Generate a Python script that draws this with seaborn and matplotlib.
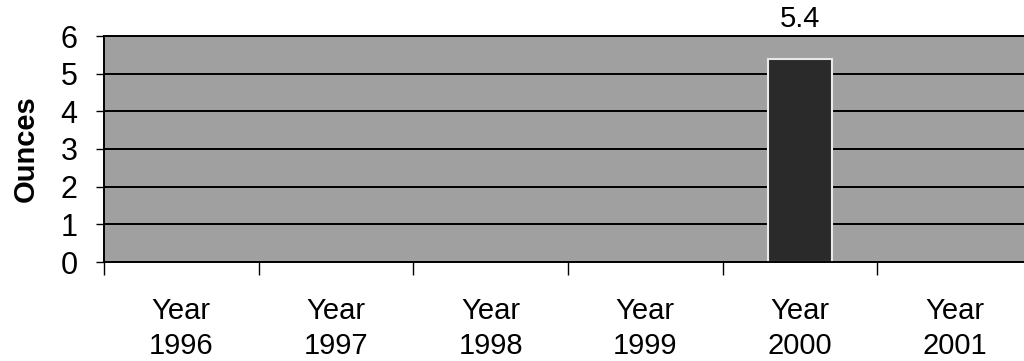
import matplotlib
matplotlib.use("Agg")
import matplotlib.pyplot as plt
import seaborn as sns
import numpy as np
import pandas as pd

years = ["1996", "1997", "1998", "1999", "2000", "2001"]
ounces = [np.nan, np.nan, np.nan, np.nan, 5.4, np.nan]
tick_labels = [f"Year\n{y}" for y in years]
yticks = [0, 1, 2, 3, 4, 5, 6]

sns.set_theme(style="white")
plt.rcParams['font.family'] = ['Liberation Sans', 'DejaVu Sans']
plt.rcParams['text.color'] = 'black'
plt.rcParams['xtick.color'] = 'black'
plt.rcParams['ytick.color'] = 'black'
plt.rcParams['axes.labelcolor'] = 'black'

df = pd.DataFrame({"year": years, "ounces": ounces})

fig = plt.figure(figsize=(10.24, 3.61), dpi=100)
ax = fig.add_axes([104/1024, 99/361, 928/1024, 226/361])
ax.set_facecolor("#a0a0a0")

sns.barplot(data=df, x="year", y="ounces", order=years, ax=ax,
            color="#2a2a2a", edgecolor="#e8e8e8", linewidth=1.5, width=0.42,
            saturation=1)

ax.set_ylim(0, 6)
ax.set_xlim(-0.5, len(years) - 0.5)
ax.set_yticks(yticks)
ax.set_yticklabels([str(v) for v in yticks], fontsize=22)
ax.yaxis.grid(True, color="black", linewidth=1.4)
ax.set_axisbelow(True)

ax.set_xticks(range(len(years)))
ax.set_xticklabels(tick_labels, fontsize=21, linespacing=1.32)
ax.tick_params(axis="x", which="major", length=0, pad=25)
ax.set_xticks(np.arange(-0.5, len(years), 1.0), minor=True)
ax.tick_params(axis="x", which="minor", length=9, width=1, color="black", direction="out", bottom=True)
ax.tick_params(axis="y", which="major", length=6, width=1, color="black", direction="out", left=True, pad=13)

ax.set_xlabel("")
ax.set_ylabel("Ounces", fontsize=21, fontweight="bold", labelpad=15)

for s in ["left", "bottom", "top"]:
    ax.spines[s].set_visible(True)
    ax.spines[s].set_color("black")
    ax.spines[s].set_linewidth(1.4)
ax.spines["right"].set_visible(False)

for i, v in enumerate(ounces):
    if not np.isnan(v):
        ax.text(i, v + 0.68, f"{v}", ha="center", va="bottom", fontsize=21, clip_on=False)

fig.savefig("out.png", dpi=100)
